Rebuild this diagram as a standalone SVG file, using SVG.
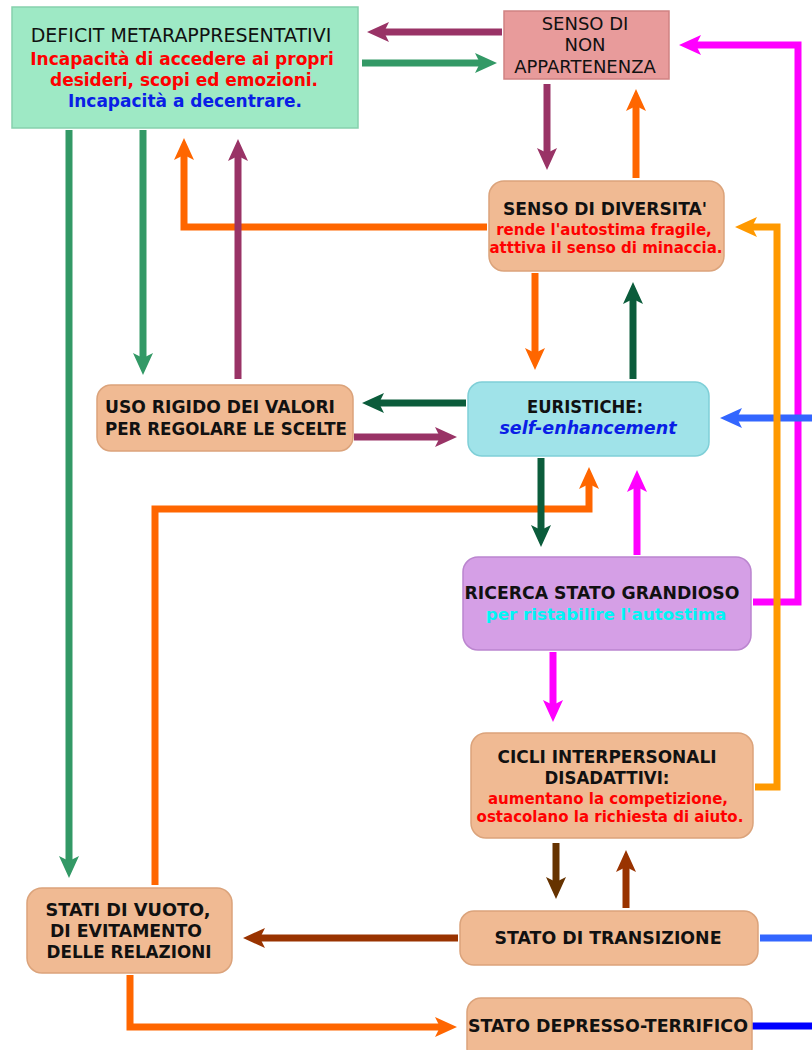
<svg xmlns="http://www.w3.org/2000/svg" width="812" height="1050" viewBox="0 0 812 1050">
  <style>
    .t { font-family: "DejaVu Sans", "Noto Sans", sans-serif; text-anchor: middle; }
    .reg { font-weight: normal; fill: #111; }
    .blk { font-weight: bold; fill: #111; font-size: 18px; }
    .red { font-weight: bold; fill: #ff0000; }
    .blu { font-weight: bold; fill: #0a1ee6; }
    .cy { font-weight: bold; fill: #00f5f5; font-size: 16.7px; }
    .peach { fill: #f0ba93; stroke: #dba37b; stroke-width: 1.5; }
    .c { fill: none; stroke-width: 7; stroke-linejoin: miter; stroke-linecap: butt; }
  </style>
  <defs>
    <marker id="mGreen" viewBox="0 0 22 20" refX="13" refY="10" markerWidth="22" markerHeight="20" markerUnits="userSpaceOnUse" orient="auto"><path d="M0,0 L22,10 L0,20 L5,10 z" fill="#339966"/></marker>
    <marker id="mPurple" viewBox="0 0 22 20" refX="13" refY="10" markerWidth="22" markerHeight="20" markerUnits="userSpaceOnUse" orient="auto"><path d="M0,0 L22,10 L0,20 L5,10 z" fill="#993366"/></marker>
    <marker id="mOrange" viewBox="0 0 22 20" refX="13" refY="10" markerWidth="22" markerHeight="20" markerUnits="userSpaceOnUse" orient="auto"><path d="M0,0 L22,10 L0,20 L5,10 z" fill="#ff6600"/></marker>
    <marker id="mMagenta" viewBox="0 0 22 20" refX="13" refY="10" markerWidth="22" markerHeight="20" markerUnits="userSpaceOnUse" orient="auto"><path d="M0,0 L22,10 L0,20 L5,10 z" fill="#ff00ff"/></marker>
    <marker id="mDkGreen" viewBox="0 0 22 20" refX="13" refY="10" markerWidth="22" markerHeight="20" markerUnits="userSpaceOnUse" orient="auto"><path d="M0,0 L22,10 L0,20 L5,10 z" fill="#0b5c3b"/></marker>
    <marker id="mBlue" viewBox="0 0 22 20" refX="13" refY="10" markerWidth="22" markerHeight="20" markerUnits="userSpaceOnUse" orient="auto"><path d="M0,0 L22,10 L0,20 L5,10 z" fill="#3366ff"/></marker>
    <marker id="mAmber" viewBox="0 0 22 20" refX="13" refY="10" markerWidth="22" markerHeight="20" markerUnits="userSpaceOnUse" orient="auto"><path d="M0,0 L22,10 L0,20 L5,10 z" fill="#ff9900"/></marker>
    <marker id="mBrown" viewBox="0 0 22 20" refX="13" refY="10" markerWidth="22" markerHeight="20" markerUnits="userSpaceOnUse" orient="auto"><path d="M0,0 L22,10 L0,20 L5,10 z" fill="#663300"/></marker>
    <marker id="mRust" viewBox="0 0 22 20" refX="13" refY="10" markerWidth="22" markerHeight="20" markerUnits="userSpaceOnUse" orient="auto"><path d="M0,0 L22,10 L0,20 L5,10 z" fill="#993300"/></marker>
  </defs>

  <rect width="812" height="1050" fill="#ffffff"/>

  <g id="connectors">
    <!-- top row -->
    <path class="c" stroke="#993366" d="M502,32 H376" marker-end="url(#mPurple)"/>
    <path class="c" stroke="#339966" stroke-linecap="round" d="M362,63 H488" marker-end="url(#mGreen)"/>
    <path class="c" stroke="#993366" stroke-linecap="round" d="M547,84 V161" marker-end="url(#mPurple)"/>
    <path class="c" stroke="#ff6600" d="M636,178 V98" marker-end="url(#mOrange)"/>
    <!-- long right-side loops -->
    <path class="c" stroke="#ff00ff" d="M753,602 H798 V45 H688" marker-end="url(#mMagenta)"/>
    <path class="c" stroke="#3366ff" d="M812,418 H729" marker-end="url(#mBlue)"/>
    <path class="c" stroke="#ff9900" d="M755,787 H777 V227 H744" marker-end="url(#mAmber)"/>
    <!-- left column -->
    <path class="c" stroke="#ff6600" d="M487,227 H184 V147" marker-end="url(#mOrange)"/>
    <path class="c" stroke="#993366" stroke-linecap="round" d="M238,379 V148" marker-end="url(#mPurple)"/>
    <path class="c" stroke="#339966" d="M143,130 V366" marker-end="url(#mGreen)"/>
    <path class="c" stroke="#339966" d="M69,130 V869" marker-end="url(#mGreen)"/>
    <!-- around EURISTICHE -->
    <path class="c" stroke="#0b5c3b" d="M466,403 H371" marker-end="url(#mDkGreen)"/>
    <path class="c" stroke="#993366" d="M354,437 H448" marker-end="url(#mPurple)"/>
    <path class="c" stroke="#0b5c3b" d="M633,379 V291" marker-end="url(#mDkGreen)"/>
    <path class="c" stroke="#ff6600" d="M535,273 V361" marker-end="url(#mOrange)"/>
    <path class="c" stroke="#ff6600" d="M155,885 V509 H589 V476" marker-end="url(#mOrange)"/>
    <path class="c" stroke="#0b5c3b" d="M541,458 V538" marker-end="url(#mDkGreen)"/>
    <path class="c" stroke="#ff00ff" d="M637,555 V479" marker-end="url(#mMagenta)"/>
    <path class="c" stroke="#ff00ff" d="M553,652 V713" marker-end="url(#mMagenta)"/>
    <!-- lower part -->
    <path class="c" stroke="#663300" d="M556,843 V890" marker-end="url(#mBrown)"/>
    <path class="c" stroke="#993300" d="M626,908 V859" marker-end="url(#mRust)"/>
    <path class="c" stroke="#993300" d="M458,938 H252" marker-end="url(#mRust)"/>
    <path class="c" stroke="#3366ff" d="M760,938 H812"/>
    <path class="c" stroke="#ff6600" d="M130,975 V1027 H448" marker-end="url(#mOrange)"/>
    <path class="c" stroke="#0000ff" stroke-width="8" d="M752,1026 H812"/>
  </g>

  <g id="deficit-metarappresentativi">
    <rect x="12" y="7" width="346" height="121" fill="#9ee9c5" stroke="#86d1ad" stroke-width="1.5"/>
    <text class="t reg" x="181" y="42" font-size="19">DEFICIT METARAPPRESENTATIVI</text>
    <text class="t red" x="182" y="65" font-size="17">Incapacità di accedere ai propri</text>
    <text class="t red" x="184" y="86" font-size="17">desideri, scopi ed emozioni.</text>
    <text class="t blu" x="185" y="107" font-size="17">Incapacità a decentrare.</text>
  </g>

  <g id="senso-non-appartenenza">
    <rect x="504" y="11" width="165" height="68" fill="#e89b9b" stroke="#d08282" stroke-width="1.5"/>
    <text class="t reg" x="585" y="30" font-size="18">SENSO DI</text>
    <text class="t reg" x="585" y="51" font-size="18">NON</text>
    <text class="t reg" x="585" y="73" font-size="18">APPARTENENZA</text>
  </g>

  <g id="senso-diversita">
    <rect class="peach" x="489" y="181" width="235" height="90" rx="15"/>
    <text class="t blk" x="605" y="215" textLength="204" lengthAdjust="spacingAndGlyphs">SENSO DI DIVERSITA'</text>
    <text class="t red" x="604" y="235" font-size="15">rende l'autostima fragile,</text>
    <text class="t red" x="606" y="253" font-size="15">atttiva il senso di minaccia.</text>
  </g>

  <g id="uso-rigido">
    <rect class="peach" x="97" y="385" width="256" height="66" rx="14"/>
    <text class="t blk" x="105" y="413" font-size="17" style="text-anchor:start" textLength="230" lengthAdjust="spacingAndGlyphs">USO RIGIDO DEI VALORI</text>
    <text class="t blk" x="105" y="435" font-size="17" style="text-anchor:start" textLength="242" lengthAdjust="spacingAndGlyphs">PER REGOLARE LE SCELTE</text>
  </g>

  <g id="euristiche">
    <rect x="468" y="382" width="241" height="74" rx="14" fill="#a0e3e9" stroke="#7fcfd7" stroke-width="1.5"/>
    <text class="t blk" x="585" y="413" textLength="116" lengthAdjust="spacingAndGlyphs">EURISTICHE:</text>
    <text class="t blu" x="588" y="434" font-size="17.5" font-style="italic">self-enhancement</text>
  </g>

  <g id="ricerca-stato-grandioso">
    <rect x="463" y="557" width="288" height="93" rx="15" fill="#d59fe6" stroke="#bb85cf" stroke-width="1.5"/>
    <text class="t blk" x="602" y="599" textLength="275" lengthAdjust="spacingAndGlyphs">RICERCA STATO GRANDIOSO</text>
    <text class="t cy" x="606" y="620">per ristabilire l'autostima</text>
  </g>

  <g id="cicli-interpersonali">
    <rect class="peach" x="471" y="733" width="282" height="105" rx="15"/>
    <text class="t blk" x="607" y="763" textLength="219" lengthAdjust="spacingAndGlyphs">CICLI INTERPERSONALI</text>
    <text class="t blk" x="607" y="784" textLength="125" lengthAdjust="spacingAndGlyphs">DISADATTIVI:</text>
    <text class="t red" x="608" y="804" font-size="15">aumentano la competizione,</text>
    <text class="t red" x="610" y="822" font-size="15">ostacolano la richiesta di aiuto.</text>
  </g>

  <g id="stati-di-vuoto">
    <rect class="peach" x="27" y="888" width="205" height="85" rx="15"/>
    <text class="t blk" x="128" y="916" textLength="165" lengthAdjust="spacingAndGlyphs">STATI DI VUOTO,</text>
    <text class="t blk" x="126" y="937" textLength="152" lengthAdjust="spacingAndGlyphs">DI EVITAMENTO</text>
    <text class="t blk" x="129" y="958" textLength="165" lengthAdjust="spacingAndGlyphs">DELLE RELAZIONI</text>
  </g>

  <g id="stato-transizione">
    <rect class="peach" x="460" y="911" width="298" height="54" rx="14"/>
    <text class="t blk" x="608" y="944" textLength="227" lengthAdjust="spacingAndGlyphs">STATO DI TRANSIZIONE</text>
  </g>

  <g id="stato-depresso-terrifico">
    <rect class="peach" x="467" y="998" width="285" height="64" rx="14"/>
    <text class="t blk" x="608" y="1032" textLength="280" lengthAdjust="spacingAndGlyphs">STATO DEPRESSO-TERRIFICO</text>
  </g>
</svg>
